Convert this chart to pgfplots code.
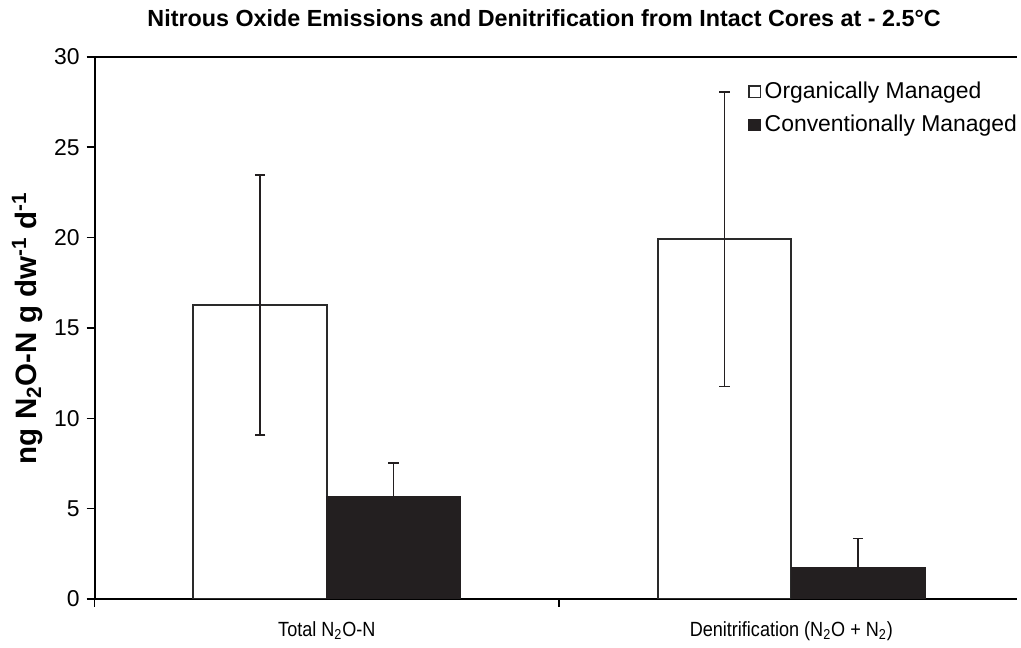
\documentclass[border=0pt]{standalone}
\usepackage{fontspec}
\setmainfont{Liberation Sans}
\usepackage{pgfplots}
\pgfplotsset{compat=1.18}
\usetikzlibrary{calc}
\definecolor{barblack}{HTML}{231F20}
\definecolor{edge}{HTML}{2A2A2A}

\begin{document}
\begin{tikzpicture}
\begin{axis}[name=ax, scale only axis, width=463pt, height=272pt,
  ybar=0pt, bar width=67pt,
  xmin=-0.5, xmax=1.487, ymin=0, ymax=30,
  axis lines=left, axis line style={-, line width=0.9pt, black},
  tick align=outside, major tick length=4pt, minor tick length=4pt,
  tick style={line width=0.7pt, black},
  xtick={0,1},
  xticklabels={\scalebox{0.88}[1]{Total N\textsubscript{2}O-N}, \scalebox{0.88}[1]{Denitrification (N\textsubscript{2}O + N\textsubscript{2})}},
  minor xtick={-0.5,0.5},
  every major x tick/.append style={draw=none},
  x tick label style={font=\fontsize{10.3}{12}\selectfont, yshift=-4pt},
  ytick={0,5,...,30},
  y tick label style={font=\fontsize{11.5}{13}\selectfont},
  /pgf/number format/assume math mode=true,
  ylabel={\bfseries ng N\textsubscript{2}O-N g dw\textsuperscript{-1} d\textsuperscript{-1}},
  ylabel style={at={(axis description cs:-0.073,0.5)}, anchor=center, font=\fontsize{14.8}{16}\selectfont},
  legend style={draw=none, fill=none, at={(0.708,0.962)}, anchor=north west,
    font=\fontsize{11.5}{13}\selectfont, row sep=3pt, inner sep=0pt, cells={anchor=west}},
]
\addplot[fill=white, draw=edge, line width=0.9pt,
  legend image code/.code={\draw[fill=white, draw=edge, line width=0.6pt] (0.5pt,-2.8pt) rectangle (6.1pt,2.8pt);},
  error bars/.cd, y dir=both, y explicit, error mark=|,
  error bar style={line width=0.8pt, barblack},
  error mark options={line width=0.8pt, barblack, mark size=2.6pt}]
  table[x=x, y=y, y error=e] {
x y e
0 16.27 7.20
1 19.90 8.15
};
\addplot[fill=barblack, draw=barblack, line width=0.75pt,
  legend image code/.code={\draw[fill=barblack, draw=barblack, line width=0.6pt] (0.5pt,-2.8pt) rectangle (6.1pt,2.8pt);},
  error bars/.cd, y dir=both, y explicit, error mark=|,
  error bar style={line width=0.8pt, barblack},
  error mark options={line width=0.8pt, barblack, mark size=2.6pt}]
  table[x=x, y=y, y error=e] {
x y e
0 5.63 1.88
1 1.70 1.64
};
\legend{Organically Managed, Conventionally Managed}
\end{axis}
\draw[line width=0.9pt] (ax.north west) -- (ax.north east);
\node[font=\bfseries\fontsize{11.7}{13}\selectfont] at ($(ax.north west)+(225.5pt,19.5pt)$)
  {Nitrous Oxide Emissions and Denitrification from Intact Cores at - 2.5°C};
\path ($(ax.south west)+(-47.5pt,-19.5pt)$) rectangle ($(ax.north east)+(0pt,28.5pt)$);
\end{tikzpicture}
\end{document}
